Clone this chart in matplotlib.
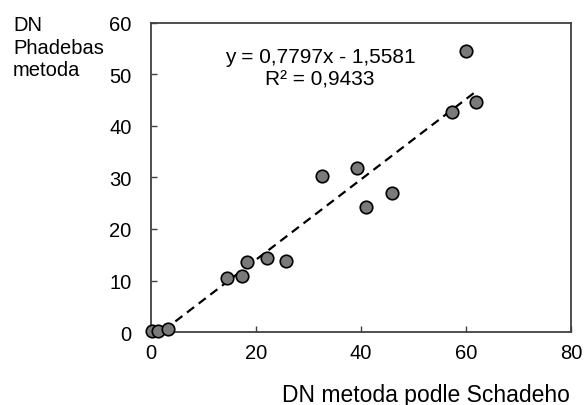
import numpy as np
import matplotlib
matplotlib.use('Agg')
import matplotlib.pyplot as plt

plt.rcParams['font.family'] = ['Liberation Sans', 'DejaVu Sans']

# values
schade = [0.2, 1.3, 3.2, 14.5, 17.3, 18.3, 22.1, 25.7, 32.6, 39.2, 41.0, 45.9, 57.3, 60.0, 61.9]
phadebas = [0.1, 0.2, 0.6, 10.4, 10.8, 13.5, 14.3, 13.8, 30.3, 31.8, 24.3, 27.0, 42.7, 54.6, 44.7]
slope, intercept, r2 = 0.7797, -1.5581, 0.9433

fig = plt.figure(figsize=(5.86, 4.06), dpi=100)
ax = fig.add_axes([0.2577, 0.1798, 0.7167, 0.7611])

# trendline over the data range
xs = np.array([min(schade), max(schade)])
ax.plot(xs, slope * xs + intercept, color='black', linewidth=1.6,
        linestyle=(0, (4, 2.6)), zorder=2)

ax.plot(schade, phadebas, 'o', markersize=9, markerfacecolor='#7a7a7a',
        markeredgecolor='black', markeredgewidth=1.2, zorder=3, clip_on=False)

ax.set_xlim(0, 80)
ax.set_ylim(0, 60)
ax.set_xticks([0, 20, 40, 60, 80])
ax.set_yticks([0, 10, 20, 30, 40, 50, 60])
ax.tick_params(direction='in', length=4, width=1, colors='#404040',
               labelcolor='black', labelsize=14.5)
ax.tick_params(axis='x', pad=8)
ax.tick_params(axis='y', pad=14)
for s in ax.spines.values():
    s.set_color('#404040')
    s.set_linewidth(1.3)

ax.text(0.402, 0.854, 'y = 0,7797x - 1,5581\nR² = 0,9433',
        transform=ax.transAxes, ha='center', va='center', fontsize=15,
        linespacing=1.25)

fig.text(13 / 586, 1 - 16 / 406, 'DN\nPhadebas\nmetoda', ha='left', va='top',
         fontsize=14.5, linespacing=1.25)
fig.text(426 / 586, 1 - 396 / 406, 'DN metoda podle Schadeho', ha='center',
         va='center', fontsize=16.5)

fig.savefig('out.png', dpi=100)
